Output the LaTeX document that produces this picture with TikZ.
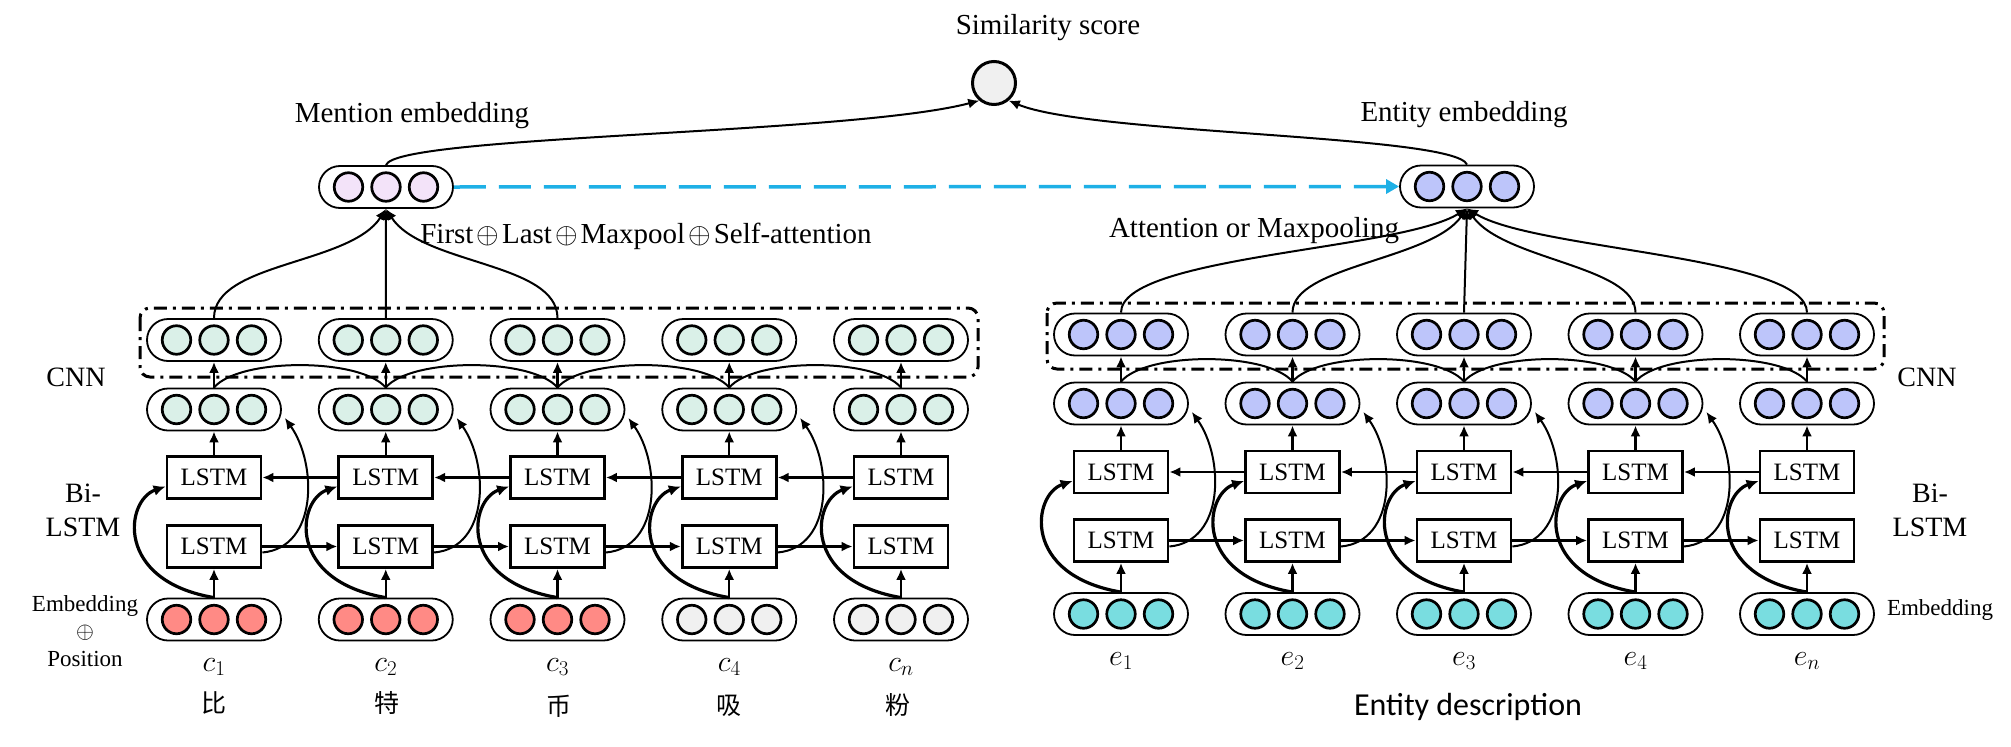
\documentclass[tikz,border=0pt]{standalone}
\usepackage{fix-cm}
\usepackage{fontspec}
\setmainfont{Liberation Serif}
\newfontfamily\cjkfont{Noto Sans CJK SC}
\newfontfamily\calfont{Carlito}
\usetikzlibrary{arrows.meta,shapes.misc,calc}
\definecolor{mint}{HTML}{DAF0E8}
\definecolor{salmon}{HTML}{FF8A85}
\definecolor{lgrey}{HTML}{F0F0F0}
\definecolor{lav}{HTML}{F3E3F9}
\definecolor{peri}{HTML}{BDC5FA}
\definecolor{cyanc}{HTML}{79DDE0}
\definecolor{lblue}{HTML}{1EB0E6}
\tikzset{
  pill/.style={rounded rectangle, draw, line width=1.8pt, minimum width=134pt, minimum height=42pt, inner sep=0pt, fill=white},
  ball/.style={circle, draw, line width=2.7pt, minimum size=28.5pt, inner sep=0pt},
  lstm/.style={rectangle, draw, line width=2.8pt, minimum width=94pt, minimum height=42pt, inner sep=0pt, fill=white, font=\fontsize{25}{30}\selectfont},
  tip/.style={-{Latex[length=11pt,width=10pt]}},
  arr/.style={line width=2.2pt, tip},
  thinc/.style={line width=2pt, tip},
  thickc/.style={line width=3.2pt, -{Latex[length=12pt,width=11pt]}},
  conv/.style={line width=2pt},
  up/.style={line width=2pt, tip},
  dashbox/.style={line width=3pt, rounded corners=10pt, dash pattern=on 13pt off 6pt on 3pt off 6pt},
  bluearr/.style={line width=3.5pt, lblue, dash pattern=on 32pt off 13pt, -{Triangle[length=13pt,width=14pt]}},
  lab/.style={font=\fontsize{29}{34}\selectfont, inner sep=0pt},
  side/.style={font=\fontsize{28}{34}\selectfont, align=center, inner sep=0pt},
  small/.style={font=\fontsize{23}{27.5}\selectfont, align=center, inner sep=0pt},
  mathl/.style={font=\fontsize{30}{36}\selectfont, inner sep=0pt},
  cjk/.style={font=\cjkfont\fontsize{25}{30}\selectfont, inner sep=0pt}
}
\newcommand\mkpill[4]{%
  \node[pill] (#1) at (#2,#3) {};%
  \foreach \dd/\kk in {-37.5/a,0/b,37.5/c}{\node[ball,fill=#4] (#1\kk) at ($(#1)+(\dd,0)$) {};}%
}
\begin{document}
\begin{tikzpicture}[x=1pt,y=-1pt]
\useasboundingbox (0,0) rectangle (2011,747);
% dash-dot CNN boxes
\draw[dashbox] (140,308) rectangle (978,377);
\draw[dashbox] (1047,303) rectangle (1884,369);
% left columns
\foreach \i/\x/\ec in {1/214/salmon,2/385.75/salmon,3/557.5/salmon,4/729.25/lgrey,5/901/lgrey}{
  \mkpill{Lcnn\i}{\x}{340}{mint}
  \mkpill{Lp\i}{\x}{409.5}{mint}
  \node[lstm] (Lup\i) at (\x,477.5) {LSTM};
  \node[lstm] (Llo\i) at (\x,546.5) {LSTM};
  \mkpill{Lem\i}{\x}{619.5}{\ec}
}
% right columns
\foreach \i/\x in {1/1121,2/1292.5,3/1464,4/1635.5,5/1807}{
  \mkpill{Rcnn\i}{\x}{334.5}{peri}
  \mkpill{Rp\i}{\x}{403.5}{peri}
  \node[lstm] (Rup\i) at (\x,472) {LSTM};
  \node[lstm] (Rlo\i) at (\x,540.5) {LSTM};
  \mkpill{Rem\i}{\x}{614}{cyanc}
}
% top
\mkpill{M}{386}{187}{lav}
\mkpill{E}{1467}{186.5}{peri}
\node[circle, draw, line width=3pt, fill=lgrey, minimum size=43pt, inner sep=0pt] (S) at (994,83) {};
% connections between columns
\foreach \s in {L,R}{
  \foreach \i/\j in {1/2,2/3,3/4,4/5}{
    \draw[arr] (\s lo\i.east) -- (\s lo\j.west);
    \draw[arr] (\s up\j.west) -- (\s up\i.east);
    \draw[conv] (\s p\i.north) .. controls +(25,-30) and +(-25,-30) .. (\s p\j.north);
    \draw[thinc] ($(\s lo\i.east)+(0,6)$) .. controls +(56,-5) and +(32,45) .. ($(\s p\i.east)+(3,8.5)$);
  }
  \foreach \i in {1,...,5}{
    \draw[arr] (\s em\i.north) -- (\s lo\i.south);
    \draw[thickc] (\s em\i.north) .. controls +(-100,-17) and +(-40,13.5) .. ($(\s up\i.west)+(0,9)$);
    \draw[arr] (\s up\i.north) -- (\s p\i.south);
    \draw[arr] (\s p\i.north) -- (\s cnn\i.south);
  }
}
% to mention embedding
\draw[up] (Lcnn1.north) .. controls +(0,-56) and +(-36,56) .. (M.south);
\draw[up] (Lcnn2.north) -- (M.south);
\draw[up] (Lcnn3.north) .. controls +(0,-56) and +(36,56) .. (M.south);
% to entity embedding
\draw[up] (Rcnn1.north) .. controls +(0,-57) and +(-67,42) .. (E.south);
\draw[up] (Rcnn2.north) .. controls +(0,-47) and +(-37,52) .. (E.south);
\draw[up] (Rcnn3.north) -- (E.south);
\draw[up] (Rcnn4.north) .. controls +(0,-47) and +(37,52) .. (E.south);
\draw[up] (Rcnn5.north) .. controls +(0,-57) and +(67,42) .. (E.south);
% to similarity
\draw[up] (M.north) .. controls +(9,-30) and +(-129,34) .. (S.230);
\draw[up] (E.north) .. controls +(-12,-30) and +(81,34) .. (S.-50);
\draw[bluearr] (M.east) -- (E.west);
% labels
\node[lab] (simlab) at (1048,28) {Similarity score};
\node[lab] (mentlab) at (412,116) {Mention embedding};
\node[lab] (entlab) at (1464,115) {Entity embedding};
\node[lab] (firstlab) at (646,236) {First\kern3pt$\oplus$\kern3pt Last\kern3pt$\oplus$\kern3pt Maxpool\kern3pt$\oplus$\kern3pt Self-attention};
\node[lab] (attlab) at (1254,231) {Attention or Maxpooling};
\node[side] (cnnL) at (76,377) {CNN};
\node[side] (cnnR) at (1927,377) {CNN};
\node[side] (biL) at (83,510) {Bi-\\LSTM};
\node[side] (biR) at (1930,510) {Bi-\\LSTM};
\node[small] (embL) at (85,631) {Embedding\\$\oplus$\\Position};
\node[small] (embR) at (1940,610) {Embedding};
\foreach \i/\x/\t in {1/214/1,2/385.75/2,3/557.5/3,4/729.25/4,5/901/n}{
  \node[mathl] (cl\i) at (\x,667) {$c_{\t}$};
}
\foreach \i/\x/\t in {1/1121/1,2/1292.5/2,3/1464/3,4/1635.5/4,5/1807/n}{
  \node[mathl] (el\i) at (\x,661) {$e_{\t}$};
}
\node[cjk] (ch1) at (214,703) {比};
\node[cjk] (ch2) at (387,703) {特};
\node[cjk] (ch3) at (559,706) {币};
\node[cjk] (ch4) at (729,706) {吸};
\node[cjk] (ch5) at (898,705) {粉};
\node[font=\calfont\fontsize{32}{38}\selectfont, inner sep=0pt] (edesc) at (1468,707) {Entity description};
\end{tikzpicture}
\end{document}
